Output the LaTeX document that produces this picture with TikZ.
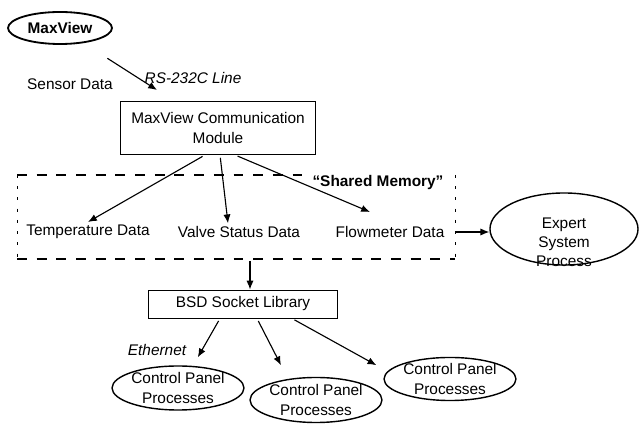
\documentclass[tikz,border=0pt,11pt]{standalone}
\usepackage{fontspec}
\setmainfont{Liberation Sans}
\usepackage{tikz}
\usetikzlibrary{shapes.geometric,arrows.meta,calc}

\tikzset{
  proc/.style = {ellipse, draw, line width=1pt, inner sep=0pt, align=center},
  modbox/.style = {rectangle, draw, line width=0.7pt, inner sep=0pt, align=center},
  txt/.style = {inner sep=2pt},
  arr/.style = {-{Latex[length=2.2mm,width=1.8mm]}, line width=0.8pt},
  memline/.style = {line width=1.5pt, dash pattern=on 7pt off 7pt},
  memside/.style = {line width=0.5pt, dash pattern=on 2pt off 6pt},
}

\begin{document}
\begin{tikzpicture}[x=0.025cm, y=-0.025cm]
    \useasboundingbox (0,0) rectangle (640,425);

    \node[proc, line width=1.3pt, font=\bfseries, minimum width=2.6cm, minimum height=0.8cm] (mv) at (60,28) {MaxView};
    \node[txt] (sensor) at (70,84) {Sensor Data};
    \node[txt, font=\itshape] (rs) at (193,78) {RS-232C Line};
    \node[modbox, minimum width=4.875cm, minimum height=1.325cm] (mcm) at (218,128) {MaxView Communication\\Module};

    % shared memory block
    \node[txt, font=\bfseries] (shm) at (378,183) {“Shared Memory”};
    \node[txt] (temp) at (88,232) {Temperature Data};
    \node[txt] (valve) at (239,232) {Valve Status Data};
    \node[txt] (flow) at (390,232) {Flowmeter Data};

    \coordinate (dtl) at (17,175);
    \coordinate (dbr) at (455,259);
    \draw[memline] (dtl) -- (shm.west |- dtl);
    \draw[memline] (dtl |- dbr) -- (dbr);
    \draw[memside] (dtl) -- (dtl |- dbr);
    \draw[memside] (dbr |- dtl) -- (dbr);

    \node[proc, minimum width=3.7cm, minimum height=1.8cm] (esp) at (564,229) {};
    \node[txt, align=center] (esptxt) at (564,242) {Expert\\System\\Process};

    \node[modbox, minimum width=4.7cm, minimum height=0.7cm] (bsd) at (243,304) {BSD Socket Library};
    \node[txt, font=\itshape] (eth) at (157,350) {Ethernet};

    \node[proc, minimum width=3.125cm, minimum height=1.1cm] (cp1) at (178,388) {Control Panel\\Processes};
    \node[proc, minimum width=3cm, minimum height=1.125cm] (cp2) at (316,400) {Control Panel\\Processes};
    \node[proc, minimum width=3.1cm, minimum height=1.05cm] (cp3) at (450,379) {Control Panel\\Processes};

    % connections
    \coordinate (rsend) at (157,90);
    \draw[arr, shorten <=20pt] (mv) -- (rsend);

    \draw[arr, shorten <=2pt] ([xshift=-0.325cm]mcm.south) -- (temp.north);
    \draw[arr, shorten <=2pt] ([xshift=0.05cm]mcm.south) -- ([xshift=-0.275cm]valve.north);
    \draw[arr, shorten <=2pt] ([xshift=0.425cm]mcm.south) -- ([xshift=-0.5cm,yshift=8pt]flow.north);
    \draw[arr] ([xshift=0.2cm]flow.east) -- (esp.west |- flow.east);

    \coordinate (dbot) at (250,261);
    \draw[arr] (dbot) -- (bsd.north -| dbot);

    \draw[arr, shorten <=2pt, shorten >=7pt] ([xshift=-0.575cm]bsd.south) -- (cp1.56);
    \draw[arr, shorten <=2pt, shorten >=11pt] ([xshift=0.35cm]bsd.south) -- (cp2.143);
    \draw[arr, shorten <=2pt, shorten >=9pt] ([xshift=1.225cm]bsd.south) -- (cp3.173);

      % \draw[help lines] (0,0) grid (640,425);
\end{tikzpicture}
\end{document}
